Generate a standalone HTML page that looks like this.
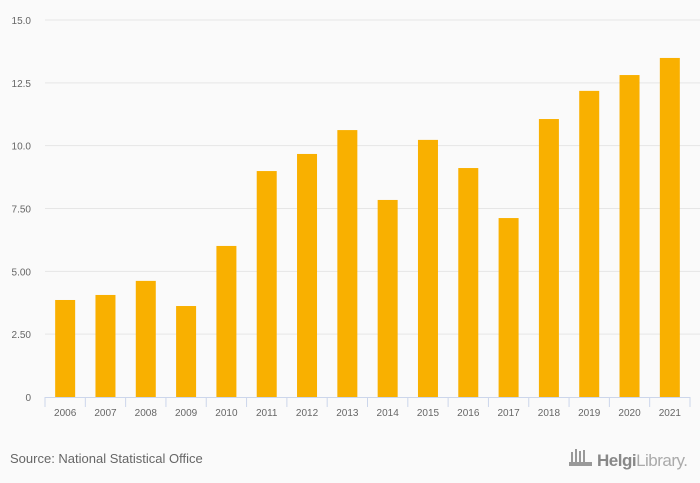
<!DOCTYPE html>
<html><head><meta charset="utf-8"><style>
body{margin:0;background:#fafafa;font-family:"Liberation Sans",sans-serif}
svg{display:block}
</style></head><body>
<svg id="c" width="700" height="483">
<rect width="700" height="483" fill="#fafafa"/>
<g id="grid"></g><g id="bars"></g><g id="axis"></g>
<text x="10" y="463" font-size="13" fill="#666">Source: National Statistical Office</text>
<g>
<g fill="#999"><rect x="571" y="452" width="2" height="12"/><rect x="575" y="449" width="2" height="15"/><rect x="579" y="451" width="2" height="13"/><rect x="583" y="450" width="2" height="14"/><rect x="569" y="462" width="23" height="4"/></g>
<text x="597" y="466" font-size="17" fill="#888" font-weight="bold" letter-spacing="-0.5">Helgi<tspan font-weight="normal" fill="#aaa">Library.</tspan></text>
</g>
</svg>
<script>
const categories=["2006","2007","2008","2009","2010","2011","2012","2013","2014","2015","2016","2017","2018","2019","2020","2021"];
const values=[3.86,4.06,4.62,3.62,6.01,8.99,9.67,10.62,7.84,10.23,9.11,7.12,11.06,12.18,12.81,13.49];
const tickValues=[0,2.5,5,7.5,10,12.5,15];
const tickLabels=["0","2.50","5.00","7.50","10.0","12.5","15.0"];
const NS="http://www.w3.org/2000/svg";
const x0=45,x1=690,y0=397,yTop=20,maxV=15;
const bw=(x1-x0)/categories.length;
function y(v){return y0-(v/maxV)*(y0-yTop);}
function xc(i){return x0+bw*(i+0.5);}
function mk(t,a,p){const e=document.createElementNS(NS,t);for(const k in a)e.setAttribute(k,a[k]);p.appendChild(e);return e;}
const grid=document.getElementById('grid'),bars=document.getElementById('bars'),axis=document.getElementById('axis');
tickValues.forEach((v,i)=>{
  if(v>0){const l=mk('line',{x1:x0,x2:700,y1:y(v),y2:y(v),stroke:'#e6e6e6','stroke-width':1},grid);
  
  }
  const t=mk('text',{x:31,y:y(v)+4,'font-size':10,fill:'#666','text-anchor':'end'},axis);
  t.textContent=tickLabels[i];
  
  
});
values.forEach((v,i)=>{
  const r=mk('rect',{x:xc(i)-10,y:y(v),width:20,height:y0-y(v),fill:'#f9b000'},bars);
  
  
  const t=mk('text',{x:xc(i),y:416,'font-size':10,fill:'#666','text-anchor':'middle'},axis);
  t.textContent=categories[i];
  
  
});
const al=mk('line',{x1:x0,x2:x1,y1:y0+0.5,y2:y0+0.5,stroke:'#ccd6eb'},axis);


for(let i=0;i<=categories.length;i++){
  const tk=mk('line',{x1:x0+bw*i,x2:x0+bw*i,y1:y0,y2:y0+10,stroke:'#ccd6eb'},axis);
  
  
}
</script>
</body></html>
